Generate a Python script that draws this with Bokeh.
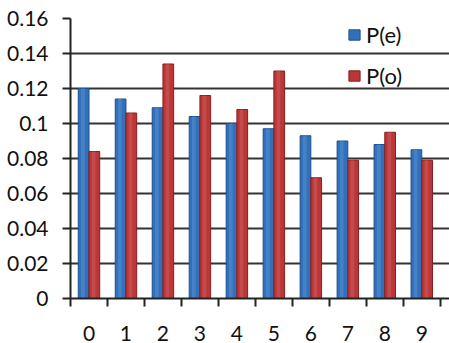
from bokeh.plotting import figure
from bokeh.models import Range1d, FixedTicker, Legend, LegendItem
from bokeh.embed import file_html
from bokeh.resources import INLINE

# digits 0-9 and the two probability series
digits = [0, 1, 2, 3, 4, 5, 6, 7, 8, 9]
p_e = [0.120, 0.114, 0.109, 0.104, 0.100, 0.097, 0.093, 0.090, 0.088, 0.085]
p_o = [0.084, 0.106, 0.134, 0.116, 0.108, 0.130, 0.069, 0.079, 0.095, 0.079]
y_ticks = [0, 0.02, 0.04, 0.06, 0.08, 0.1, 0.12, 0.14, 0.16]
y_tick_labels = ["0", "0.02", "0.04", "0.06", "0.08", "0.1", "0.12", "0.14", "0.16"]

FONT = "Lato"
BLUE, BLUE_EDGE, BLUE_HI = "#3271ba", "#1f4f8f", "#5a95d6"
RED, RED_EDGE, RED_HI = "#bb3636", "#8a1d1d", "#d06666"

p = figure(width=449, height=343, output_backend="svg", toolbar_location=None,
           x_range=Range1d(-0.5, 9.75), y_range=Range1d(0, 0.16),
           min_border_left=70, min_border_right=0, min_border_top=18,
           min_border_bottom=45, outline_line_color=None)

bw = 0.29
x_e = [d - bw / 2 for d in digits]
x_o = [d + bw / 2 for d in digits]
r_e = p.vbar(x=x_e, top=p_e, width=bw,
             fill_color=BLUE, line_color=BLUE_EDGE, line_width=1)
r_o = p.vbar(x=x_o, top=p_o, width=bw,
             fill_color=RED, line_color=RED_EDGE, line_width=1)
# lighter centre stripe for a shaded-bar look
p.vbar(x=[x - 0.02 for x in x_e], top=p_e, width=0.1,
       fill_color=BLUE_HI, fill_alpha=0.45, line_color=None)
p.vbar(x=[x - 0.02 for x in x_o], top=p_o, width=0.1,
       fill_color=RED_HI, fill_alpha=0.45, line_color=None)

# x axis: labels centred on each digit, tick marks between groups
xa = p.xaxis[0]
xa.ticker = FixedTicker(ticks=digits, minor_ticks=[d - 0.5 for d in digits] + [9.5])
xa.major_tick_in = 0
xa.major_tick_out = 0
xa.minor_tick_in = 0
xa.minor_tick_out = 8
xa.minor_tick_line_color = "#222222"
xa.minor_tick_line_width = 2
xa.axis_line_color = "#222222"
xa.axis_line_width = 2
xa.major_label_text_font = FONT
xa.major_label_text_font_size = "21px"
xa.major_label_text_color = "#111111"
xa.major_label_standoff = 19

ya = p.yaxis[0]
ya.ticker = FixedTicker(ticks=y_ticks, minor_ticks=[])
ya.major_label_overrides = {t: s for t, s in zip(y_ticks, y_tick_labels)}
ya.major_tick_in = 0
ya.major_tick_out = 8
ya.major_tick_line_color = "#222222"
ya.major_tick_line_width = 2
ya.axis_line_color = "#222222"
ya.axis_line_width = 2
ya.major_label_text_font = FONT
ya.major_label_text_font_size = "21px"
ya.major_label_text_color = "#111111"
ya.major_label_standoff = 14

p.xgrid.grid_line_color = None
p.ygrid.ticker = FixedTicker(ticks=y_ticks)
p.ygrid.grid_line_color = "#333333"
p.ygrid.grid_line_width = 2

legend = Legend(items=[LegendItem(label="P(e)", renderers=[r_e]),
                       LegendItem(label="P(o)", renderers=[r_o])],
                location=(277, 209), orientation="vertical",
                glyph_width=14, glyph_height=13, label_height=14,
                spacing=14, padding=0, margin=0,
                label_standoff=5,
                label_text_font=FONT, label_text_font_size="22px",
                label_text_color="#111111",
                background_fill_alpha=0, border_line_color=None)
p.add_layout(legend)

open("out.html", "w").write(file_html(p, INLINE))
